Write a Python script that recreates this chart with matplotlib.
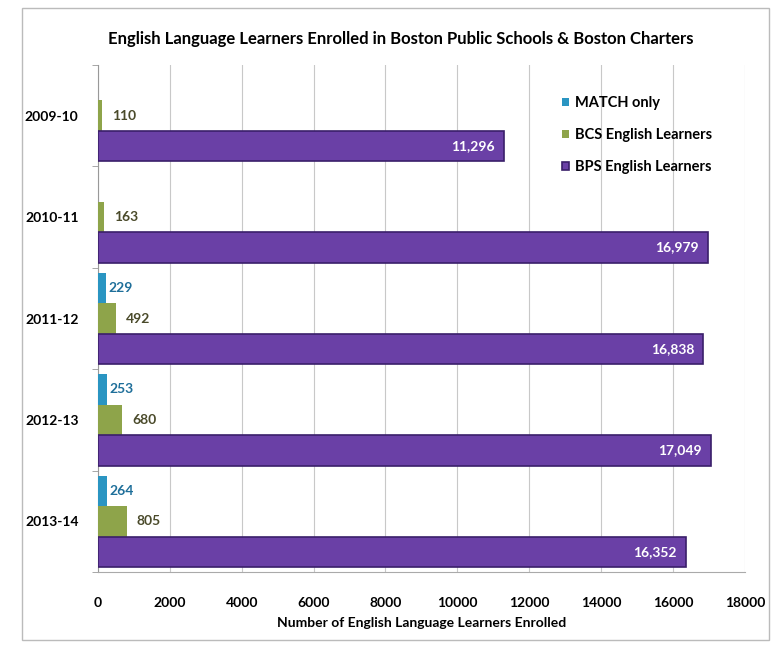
import numpy as np
import matplotlib.pyplot as plt
import matplotlib.patches as mpatches

years = ['2009-10', '2010-11', '2011-12', '2012-13', '2013-14']
match_only = [0, 0, 229, 253, 264]
bcs_el = [110, 163, 492, 680, 805]
bps_el = [11296, 16979, 16838, 17049, 16352]

c_match = '#2a95c2'
c_bcs = '#8ea44a'
c_bps = '#6a40a6'

plt.rcParams['font.family'] = ['Lato', 'DejaVu Sans']

fig = plt.figure(figsize=(7.71, 6.5), dpi=100)
ax = fig.add_axes([0.127, 0.12, 0.839, 0.78])

y = np.arange(len(years))
h = 0.3
ax.barh(y - h, match_only, height=h, color=c_match, label='MATCH only', zorder=3)
ax.barh(y, bcs_el, height=h, color=c_bcs, label='BCS English Learners', zorder=3)
ax.barh(y + h, bps_el, height=h, color=c_bps, edgecolor='#3a1f6a', linewidth=1.2,
        label='BPS English Learners', zorder=3)

# value labels
for i in range(len(years)):
    if match_only[i] > 0:
        ax.text(match_only[i] + 60, y[i] - h, str(match_only[i]), va='center', ha='left',
                color='#1f6f9a', fontsize=10, fontweight='bold')
    ax.text(bcs_el[i] + 280, y[i], str(bcs_el[i]), va='center', ha='left',
            color='#4a4a2a', fontsize=10, fontweight='bold')
    ax.text(bps_el[i] - 250, y[i] + h, '{:,}'.format(bps_el[i]), va='center', ha='right',
            color='white', fontsize=10, fontweight='bold')

ax.set_xlim(0, 18000)
ax.set_ylim(4.5, -0.5)
ax.set_xticks(np.arange(0, 18001, 2000))
ax.tick_params(axis='x', length=0, pad=18, labelsize=10)
for lab in ax.get_xticklabels():
    lab.set_fontweight('bold')

ax.set_yticks(y)
ax.set_yticklabels(years, fontsize=10, fontweight='bold')
ax.tick_params(axis='y', length=0, pad=14)
ax.set_yticks(np.arange(-0.5, 4.6, 1.0), minor=True)
ax.tick_params(axis='y', which='minor', length=4, color='#999999')

ax.grid(axis='x', color='#c8c8c8', linewidth=0.8, zorder=0)
for s in ['top', 'right']:
    ax.spines[s].set_visible(False)
ax.spines['left'].set_color('#999999')
ax.spines['bottom'].set_color('#aaaaaa')

ax.set_xlabel('Number of English Language Learners Enrolled', fontsize=10,
              fontweight='bold', labelpad=6)

fig.text(0.52, 0.94, 'English Language Learners Enrolled in Boston Public Schools & Boston Charters',
         ha='center', va='center', fontsize=12, fontweight='bold')

leg = ax.legend(loc='upper left', bbox_to_anchor=(0.697, 0.965), frameon=False,
                handlelength=0.5, handleheight=0.5, handletextpad=0.4,
                labelspacing=1.25, prop={'weight': 'bold', 'size': 10.5})

# scanned page frame
fig.patches.append(mpatches.Rectangle((0.028, 0.015), 0.97, 0.972, transform=fig.transFigure,
                                      fill=False, edgecolor='#bbbbbb', linewidth=1.0))

fig.savefig('out.png', dpi=100)
